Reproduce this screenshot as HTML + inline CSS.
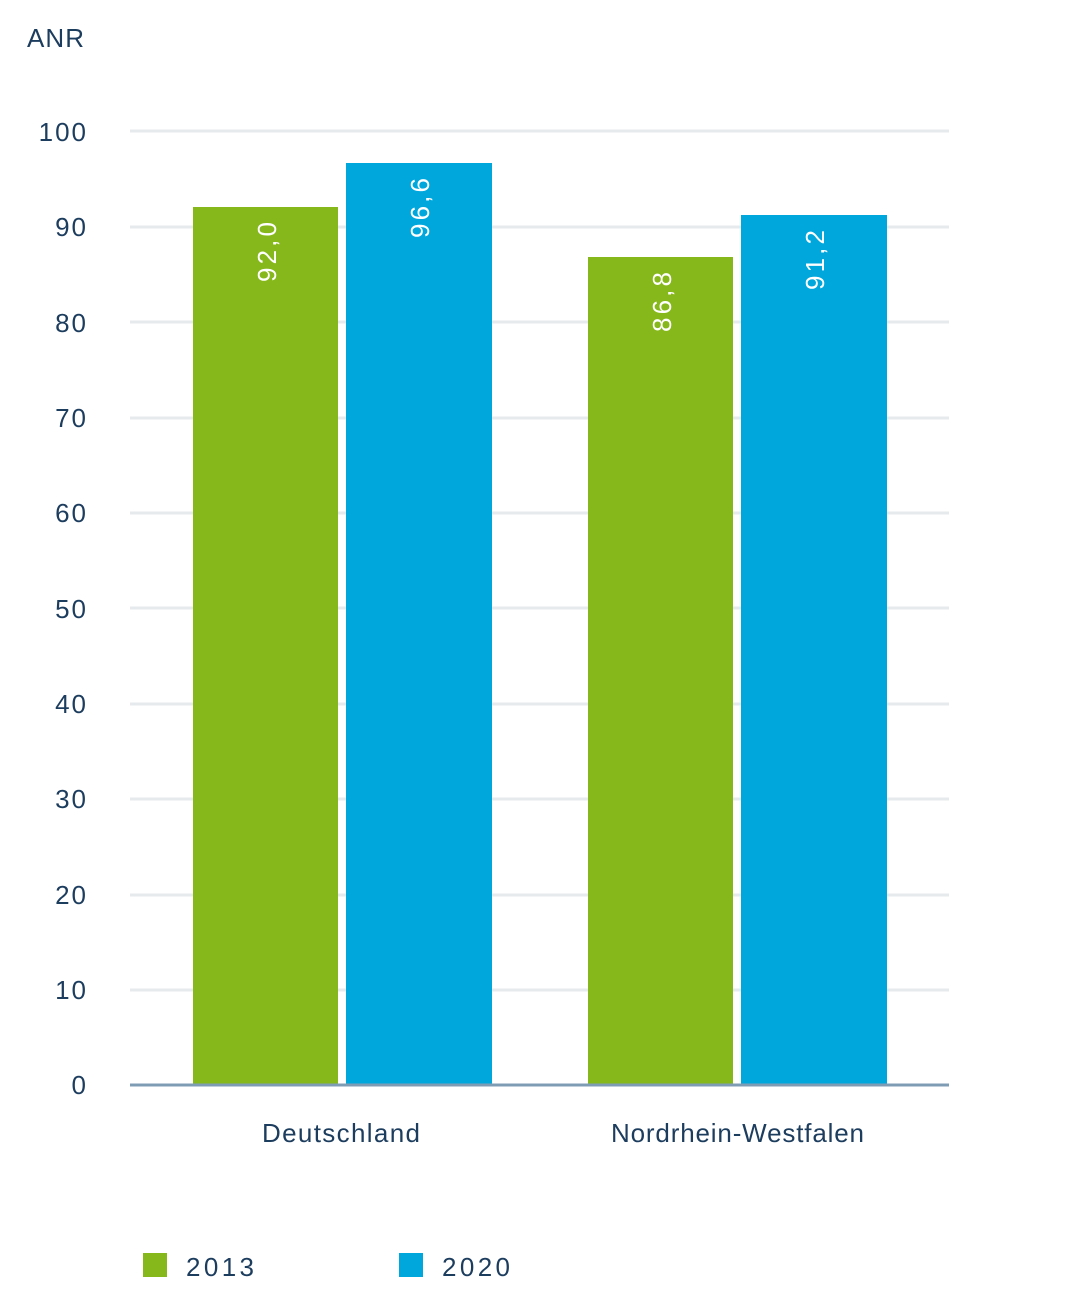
<!DOCTYPE html>
<html><head><meta charset="utf-8"><style>
body{margin:0;background:#fff;}
svg{display:block;font-family:"Liberation Sans",sans-serif;}
</style></head><body>
<svg width="1080" height="1301" viewBox="0 0 1080 1301">
<g fill="#1d3d5e" font-size="26">
<text x="27" y="47" textLength="57">ANR</text>
<g text-anchor="end" letter-spacing="2">
<text x="88" y="141">100</text>
<text x="88" y="236">90</text>
<text x="88" y="332">80</text>
<text x="88" y="427">70</text>
<text x="88" y="522">60</text>
<text x="88" y="618">50</text>
<text x="88" y="713">40</text>
<text x="88" y="808">30</text>
<text x="88" y="904">20</text>
<text x="88" y="999">10</text>
<text x="88" y="1094">0</text>
</g>
</g>
<g stroke="#e6eaec" stroke-width="3">
<line x1="130" x2="949" y1="131" y2="131"/>
<line x1="130" x2="949" y1="227" y2="227"/>
<line x1="130" x2="949" y1="322" y2="322"/>
<line x1="130" x2="949" y1="418" y2="418"/>
<line x1="130" x2="949" y1="513" y2="513"/>
<line x1="130" x2="949" y1="608" y2="608"/>
<line x1="130" x2="949" y1="704" y2="704"/>
<line x1="130" x2="949" y1="799" y2="799"/>
<line x1="130" x2="949" y1="895" y2="895"/>
<line x1="130" x2="949" y1="990" y2="990"/>
</g>
<rect x="193" y="207" width="145" height="878" fill="#86b81b"/>
<rect x="346" y="163" width="146" height="922" fill="#00a7dd"/>
<rect x="588" y="257" width="145" height="828" fill="#86b81b"/>
<rect x="741" y="215" width="146" height="870" fill="#00a7dd"/>
<line x1="130" x2="949" y1="1085" y2="1085" stroke="#7f9cb5" stroke-width="3"/>
<g fill="#fff" font-size="26">
<text transform="translate(276,282) rotate(-90)" textLength="60">92,0</text>
<text transform="translate(429,238) rotate(-90)" textLength="60">96,6</text>
<text transform="translate(671,332) rotate(-90)" textLength="60">86,8</text>
<text transform="translate(824,290) rotate(-90)" textLength="60">91,2</text>
</g>
<g fill="#1d3d5e" font-size="26">
<text x="262" y="1142" textLength="158">Deutschland</text>
<text x="611" y="1142" textLength="253">Nordrhein-Westfalen</text>
<text x="186" y="1276" textLength="68">2013</text>
<text x="442" y="1276" textLength="68">2020</text>
</g>
<rect x="143" y="1253" width="24" height="24" fill="#86b81b"/>
<rect x="399" y="1253" width="24" height="24" fill="#00a7dd"/>
</svg>
</body></html>
